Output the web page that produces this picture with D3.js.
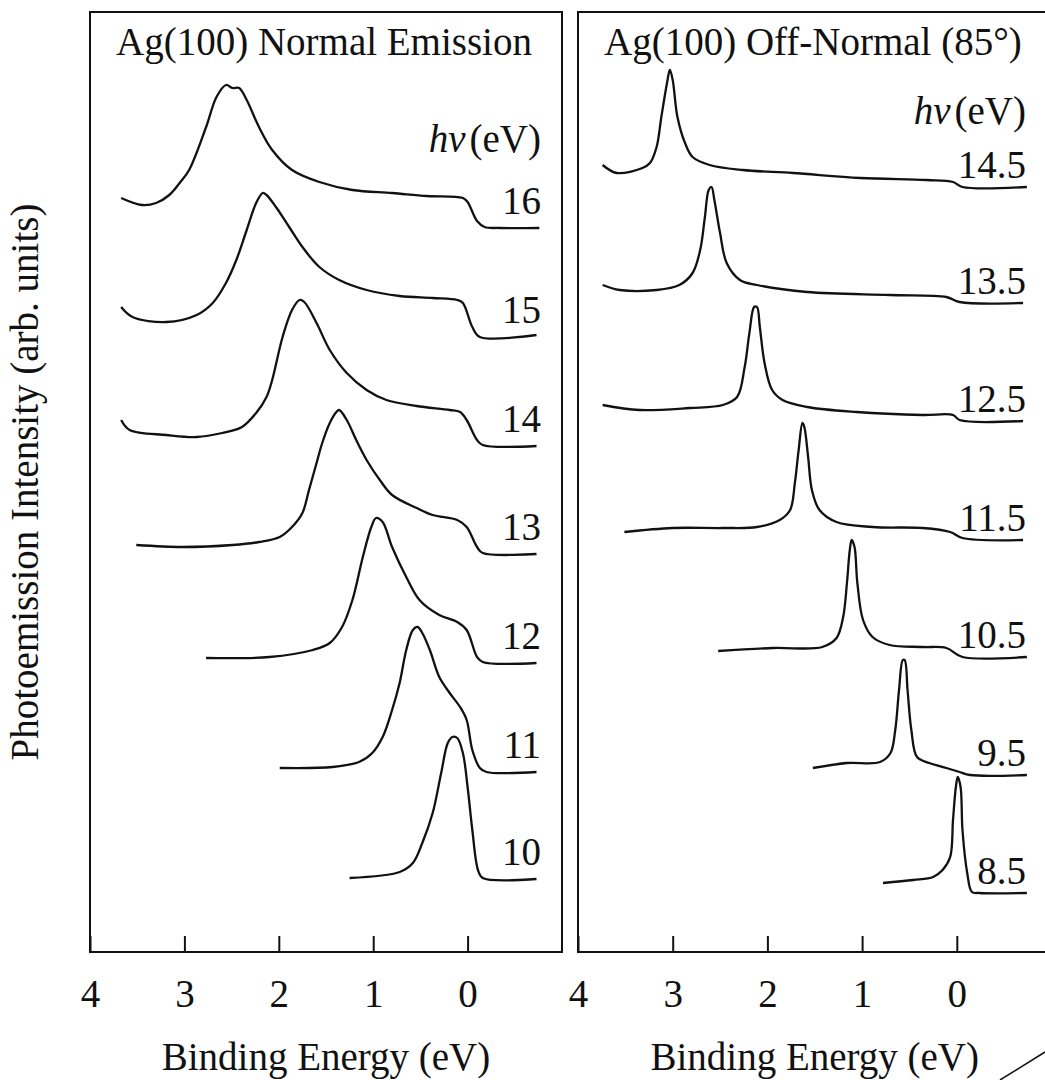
<!DOCTYPE html>
<html>
<head>
<meta charset="utf-8">
<script src="https://cdn.jsdelivr.net/npm/d3@7"></script>
<style>
  html, body { margin: 0; padding: 0; background: #fff; }
  svg, svg text, svg tspan { font-family: "Liberation Serif", "Times New Roman", serif; }
  svg text { fill: #111; }
</style>
</head>
<body>
<svg id="chart" width="1045" height="1080" font-family='"Liberation Serif", serif'></svg>
<script>
// ---------- DATA ----------
// Binding energy axis (eV), reversed
const energyDomain = [4, -1];
const tickValues = [4, 3, 2, 1, 0];
const intensityDomain = [0, 94];

// Normal emission: photon energies (labels) and vertical offsets (arb. units)
const normalLabels = ["16", "15", "14", "13", "12", "11", "10"];
const normalOffsets = [72.4, 61.5, 50.6, 39.8, 28.9, 18.0, 7.3];

// each spectrum: [binding energy (eV), intensity above its offset (arb. units)]
const ne16 = [[3.67,3.0],[3.45,2.3],[3.30,2.5],[3.16,3.3],[3.05,4.5],[2.95,5.8],[2.77,10.1],[2.66,13.1],[2.56,14.3],[2.49,14.0],[2.42,14.0],[2.34,12.8],[2.21,10.1],[2.07,7.8],[1.86,5.8],[1.57,4.6],[1.22,3.8],[0.80,3.5],[0.43,3.2],[0.05,3.0],[0.00,2.6],[-0.10,0.7],[-0.18,0.1],[-0.34,0.0],[-0.76,0.0]];
const ne15 = [[3.67,3.0],[3.55,2.0],[3.19,1.5],[2.87,2.2],[2.70,3.4],[2.56,5.4],[2.45,7.7],[2.34,10.7],[2.24,13.4],[2.17,14.4],[2.13,14.2],[2.03,13.0],[1.89,11.0],[1.75,9.0],[1.57,7.0],[1.36,5.7],[1.07,4.7],[0.72,4.1],[0.37,3.9],[0.11,3.7],[0.05,3.4],[-0.05,1.0],[-0.13,0.0],[-0.73,0.2]];
const ne14 = [[3.67,2.6],[3.58,1.6],[3.19,1.1],[2.87,0.9],[2.60,1.3],[2.39,1.9],[2.24,3.3],[2.13,4.9],[2.07,6.6],[1.96,10.9],[1.86,13.6],[1.78,14.6],[1.73,14.4],[1.60,12.3],[1.46,9.6],[1.28,7.3],[1.07,5.6],[0.86,4.6],[0.54,4.0],[0.19,3.6],[0.08,3.4],[0.01,2.6],[-0.10,0.6],[-0.16,0.1],[-0.73,0.0]];
const ne13 = [[3.51,0.9],[3.02,0.7],[2.49,0.9],[2.21,1.2],[1.99,1.7],[1.86,2.7],[1.75,4.1],[1.68,6.4],[1.60,9.1],[1.54,11.1],[1.46,13.1],[1.39,14.2],[1.36,14.4],[1.28,13.4],[1.18,11.4],[1.07,9.4],[0.93,7.4],[0.80,5.9],[0.54,4.6],[0.37,3.9],[0.11,3.4],[0.01,2.7],[-0.10,0.7],[-0.16,0.1],[-0.73,0.0]];
const ne12 = [[2.77,0.5],[2.10,0.6],[1.64,1.3],[1.46,2.0],[1.33,3.6],[1.22,6.3],[1.11,10.6],[1.02,13.6],[0.97,14.5],[0.90,14.1],[0.80,11.6],[0.65,8.6],[0.51,6.3],[0.30,4.8],[0.11,4.1],[0.01,3.3],[-0.10,0.6],[-0.16,0.1],[-0.73,0.0]];
const ne11 = [[1.99,0.4],[1.43,0.5],[1.15,1.0],[1.01,1.9],[0.90,3.5],[0.80,6.2],[0.72,8.9],[0.65,12.2],[0.58,14.2],[0.53,14.5],[0.48,13.9],[0.40,12.2],[0.30,9.5],[0.19,7.9],[0.08,6.5],[0.01,5.2],[-0.05,2.2],[-0.13,0.4],[-0.20,0.0],[-0.73,0.0]];
const ne10 = [[1.25,0.1],[0.72,0.7],[0.58,1.6],[0.48,3.6],[0.37,6.6],[0.28,10.6],[0.21,13.6],[0.16,14.2],[0.11,14.1],[0.05,12.6],[0.00,9.2],[-0.05,4.9],[-0.11,0.9],[-0.16,0.1],[-0.73,0.0]];
const normalSpectra = [ne16, ne15, ne14, ne13, ne12, ne11, ne10];

// Off-normal (85 deg)
const offLabels = ["14.5", "13.5", "12.5", "11.5", "10.5", "9.5", "8.5"];
const offOffsets = [76.5, 64.9, 53.1, 41.2, 29.5, 17.7, 5.9];

const on145 = [[3.74,2.2],[3.59,1.4],[3.32,1.9],[3.24,2.4],[3.17,4.0],[3.12,7.0],[3.06,10.4],[3.03,11.7],[3.00,10.7],[2.95,7.0],[2.87,4.4],[2.79,3.0],[2.61,2.2],[2.26,1.7],[1.73,1.4],[1.02,0.9],[0.32,0.7],[0.04,0.5],[-0.06,0.0],[-0.74,0.0]];
const on135 = [[3.74,1.8],[3.56,1.3],[3.17,1.3],[2.93,1.8],[2.79,3.0],[2.71,5.3],[2.66,8.6],[2.62,11.3],[2.59,11.6],[2.56,10.3],[2.50,7.0],[2.43,4.0],[2.29,2.3],[2.11,1.8],[1.58,1.1],[0.71,0.8],[0.11,0.6],[-0.03,0.1],[-0.70,0.0]];
const on125 = [[3.74,1.6],[3.35,1.1],[2.82,1.3],[2.47,1.6],[2.32,2.4],[2.24,5.4],[2.19,8.8],[2.14,11.4],[2.11,11.4],[2.08,9.4],[2.03,5.8],[1.95,3.1],[1.84,2.1],[1.58,1.4],[1.06,0.9],[0.36,0.6],[0.04,0.6],[-0.03,0.1],[-0.70,0.0]];
const on115 = [[3.51,0.8],[3.00,1.2],[2.47,1.2],[2.11,1.3],[1.87,2.0],[1.76,3.0],[1.71,5.7],[1.67,9.0],[1.63,11.7],[1.61,11.3],[1.57,8.3],[1.53,5.0],[1.45,3.0],[1.27,1.8],[0.89,1.3],[0.36,1.2],[0.07,0.8],[-0.06,0.2],[-0.70,0.0]];
const on105 = [[2.52,0.6],[1.94,0.9],[1.42,1.0],[1.27,1.9],[1.20,4.0],[1.16,7.4],[1.13,10.7],[1.11,11.7],[1.08,11.0],[1.05,7.4],[0.99,3.7],[0.89,2.0],[0.71,1.2],[0.36,1.0],[0.11,0.9],[-0.06,0.0],[-0.74,0.0]];
const on95 = [[1.52,0.7],[1.16,1.2],[0.81,1.3],[0.70,2.2],[0.65,4.5],[0.61,8.5],[0.57,11.5],[0.55,11.5],[0.52,8.5],[0.48,4.5],[0.42,1.8],[0.29,1.2],[0.11,0.7],[-0.03,0.3],[-0.14,0.0],[-0.74,0.0]];
const on85 = [[0.78,1.0],[0.46,1.3],[0.25,1.6],[0.15,2.3],[0.07,3.6],[0.04,7.3],[0.01,10.6],[-0.01,11.6],[-0.04,10.6],[-0.06,6.3],[-0.11,2.0],[-0.16,0.1],[-0.24,0.0],[-0.74,0.0]];
const offSpectra = [on145, on135, on125, on115, on105, on95, on85];

// ---------- DRAW ----------
const svg = d3.select("#chart");
const FS = 39;
const ink = "#111";
const serif = '"Liberation Serif", "Times New Roman", serif';

const y = d3.scaleLinear().domain(intensityDomain).range([952, 12]);

const panels = [
  { range: [90, 562], title: "Ag(100) Normal Emission", titleX: 116, hvY: 152,
    labels: normalLabels, offsets: normalOffsets, spectra: normalSpectra, labelX: 541, labelDy: -14 },
  { range: [578, 1051.5], title: "Ag(100) Off-Normal (85\u00B0)", titleX: 604, hvY: 124,
    labels: offLabels, offsets: offOffsets, spectra: offSpectra, labelX: 1026, labelDy: -9 }
];

panels.forEach(p => {
  const x = d3.scaleLinear().domain(energyDomain).range(p.range);
  const g = svg.append("g").attr("font-family", serif);

  // frame
  g.append("rect")
    .attr("x", x(4)).attr("y", y(intensityDomain[1]))
    .attr("width", x(-1) - x(4)).attr("height", y(0) - y(intensityDomain[1]))
    .attr("fill", "none").attr("stroke", ink).attr("stroke-width", 2);

  // bottom axis with inward ticks
  const ax = g.append("g").attr("transform", `translate(0,${y(0)})`)
    .call(d3.axisBottom(x).tickValues(tickValues).tickSize(-16).tickFormat(d3.format("d")));
  ax.attr("font-family", serif).attr("font-size", FS);
  ax.select(".domain").remove();
  ax.selectAll(".tick line").attr("stroke", ink).attr("stroke-width", 2);
  ax.selectAll(".tick text")
    .attr("y", 55).attr("dy", null)
    .attr("fill", ink);

  // x-axis title
  g.append("text")
    .attr("x", x(1.5)).attr("y", 1070)
    .attr("text-anchor", "middle").attr("font-size", FS)
    .text("Binding Energy (eV)");

  // panel title
  g.append("text")
    .attr("x", p.titleX).attr("y", 55)
    .attr("font-size", FS).text(p.title);

  // h nu (eV)
  const hv = g.append("text")
    .attr("x", p.labelX).attr("y", p.hvY)
    .attr("text-anchor", "end").attr("font-size", FS);
  hv.append("tspan").attr("font-style", "italic").text("h\u03BD");
  hv.append("tspan").attr("dx", 4).text("(eV)");

  // spectra
  const line = d3.line()
    .x(d => x(d[0]))
    .y(d => y(d[1]))
    .curve(d3.curveCatmullRom.alpha(0.5));

  p.spectra.forEach((s, i) => {
    const off = p.offsets[i];
    g.append("path")
      .datum(s.map(d => [d[0], d[1] + off]))
      .attr("d", line)
      .attr("fill", "none")
      .attr("stroke", ink)
      .attr("stroke-width", 2.3)
      .attr("stroke-linejoin", "round");

    g.append("text")
      .attr("x", p.labelX).attr("y", y(off))
      .attr("dy", p.labelDy)
      .attr("text-anchor", "end").attr("font-size", FS)
      .text(p.labels[i]);
  });
});

// y-axis title
svg.append("text")
  .attr("font-family", serif)
  .attr("transform", "translate(38,482) rotate(-90)")
  .attr("text-anchor", "middle").attr("font-size", FS)
  .text("Photoemission Intensity (arb. units)");

// page-edge stroke in the scan's corner
svg.append("line")
  .attr("x1", 1000).attr("y1", 1080).attr("x2", 1045).attr("y2", 1052)
  .attr("stroke", ink).attr("stroke-width", 1.5);
</script>
</body>
</html>
